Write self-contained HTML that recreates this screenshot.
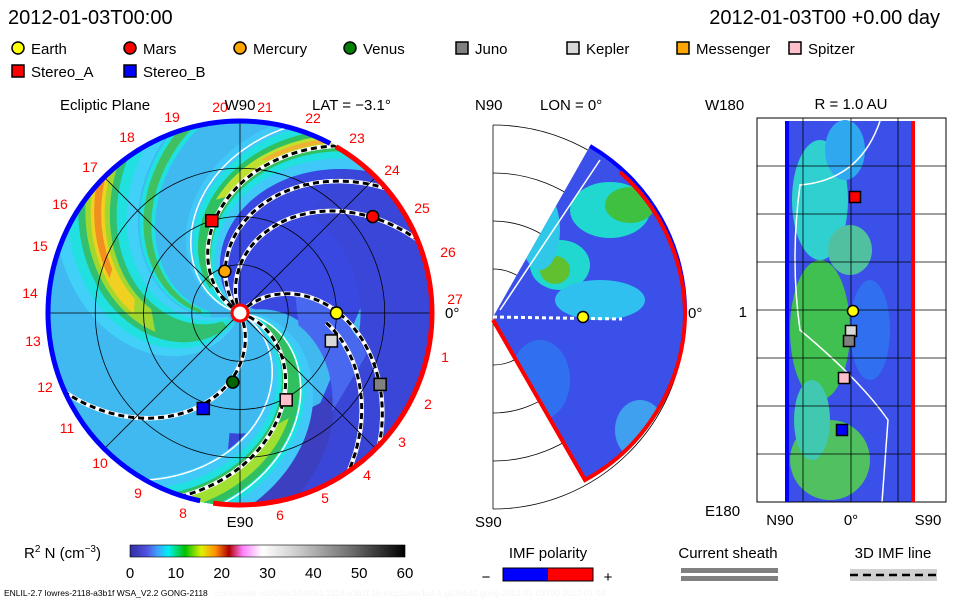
<!DOCTYPE html>
<html><head><meta charset="utf-8"><style>
body{margin:0;background:#fff;width:960px;height:600px;overflow:hidden;font-family:"Liberation Sans",sans-serif}
svg{display:block}
text{font-family:"Liberation Sans",sans-serif}
</style></head><body>
<svg id="s" width="960" height="600" viewBox="0 0 960 600">
<defs>
<linearGradient id="cb" x1="0" x2="1" y1="0" y2="0">
<stop offset="0" stop-color="#3030a0"/><stop offset="0.06" stop-color="#5050e0"/><stop offset="0.1" stop-color="#40a0ff"/><stop offset="0.14" stop-color="#00f0f0"/><stop offset="0.2" stop-color="#00c000"/><stop offset="0.26" stop-color="#e0f000"/><stop offset="0.31" stop-color="#ff9000"/><stop offset="0.36" stop-color="#b00000"/><stop offset="0.41" stop-color="#ff80ff"/><stop offset="0.48" stop-color="#ffffff"/><stop offset="0.6" stop-color="#d0d0d0"/><stop offset="0.8" stop-color="#707070"/><stop offset="1" stop-color="#000"/>
</linearGradient>
<clipPath id="disk"><circle cx="240" cy="313" r="193"/></clipPath>
<clipPath id="wedge"><path d="M493,317 L590,146 A192,192 0 0 1 585,480 Z"/></clipPath>
</defs>
<text x="8" y="24" font-size="20">2012-01-03T00:00</text>
<text x="940" y="24" font-size="20" text-anchor="end">2012-01-03T00 +0.00 day</text>
<g id="legend"></g>
<g id="ecl"></g>
<g id="mer"></g>
<g id="rad"></g>
<g id="bot"></g>
</svg>
<script>
const planetNames=["Earth","Mars","Mercury","Venus","Stereo_A","Stereo_B","Juno","Kepler","Spitzer"];
const planetR=[1.0,1.7,0.46,0.72,1.0,1.06,1.63,0.99,1.02];
const planetAng=[0,36,110,-96,107,-111,-27,-17,-62];
const planetColors=["#ffff00","#ff0000","#ffa500","#006400","#ff0000","#0000ff","#808080","#d8d8d8","#ffc0cb"];
const planetShape=["c","c","c","c","s","s","s","s","s"];
const cbTicks=[0,10,20,30,40,50,60];
const bandPhi=[226,-14,153];
const whitePhi=[165,-6,-30];
const dashPhi=[150,130,112,46,34,-18,-66];
const NS="http://www.w3.org/2000/svg";
function el(p,t,a){const e=document.createElementNS(NS,t);for(const k in a)e.setAttribute(k,a[k]);p.appendChild(e);return e;}
const CX=240,CY=313,PX=96.5;
const xs=(r,a)=>CX+r*PX*Math.cos(a*Math.PI/180);
const ys=(r,a)=>CY-r*PX*Math.sin(a*Math.PI/180);
const C=45;
function spiral(phi0,r0,r1){let d="";for(let r=r0;r<=r1+1e-6;r+=0.02){const a=phi0-C*r;d+=(d?"L":"M")+xs(r,a).toFixed(1)+","+ys(r,a).toFixed(1);}return d;}
function band(phi0,h,r0,r1){let d="";for(let r=r0;r<=r1+1e-6;r+=0.03){const a=phi0+h-C*r;d+=(d?"L":"M")+xs(r,a).toFixed(1)+","+ys(r,a).toFixed(1);}
 for(let r=r1;r>=r0-1e-6;r-=0.03){const a=phi0-h-C*r;d+="L"+xs(r,a).toFixed(1)+","+ys(r,a).toFixed(1);}return d+"Z";}
const L=document.getElementById('legend');
const lx=[18,130,240,350,462,573,683,795,18,130],ly=[48,48,48,48,48,48,48,48,71,71];
const legNames=["Earth","Mars","Mercury","Venus","Juno","Kepler","Messenger","Spitzer","Stereo_A","Stereo_B"];
const legCol=["#ffff00","#ff0000","#ffa500","#008000","#808080","#d8d8d8","#ffa500","#ffc0cb","#ff0000","#0000ff"];
legNames.forEach((n,i)=>{
 const g=el(L,'g',{});
 
 
 if(i<4)el(g,'circle',{cx:lx[i],cy:ly[i],r:6,fill:legCol[i],stroke:'#000','stroke-width':1.5});
 else el(g,'rect',{x:lx[i]-6,y:ly[i]-6,width:12,height:12,fill:legCol[i],stroke:'#000','stroke-width':1.5});
 const t=el(g,'text',{x:lx[i]+13,y:ly[i]+6,'font-size':15});t.textContent=n;
});
const E=document.getElementById('ecl');
const cg=el(E,'g',{'clip-path':'url(#disk)'});
el(cg,'circle',{cx:CX,cy:CY,r:193,fill:'#40b8f0'});
const dkp=el(cg,'path',{d:band(80,60,0.15,2.3),fill:'#3848e0'});

// outer east dark sector
let sd="";for(let a=55;a>=-95;a-=5)sd+=(sd?"L":"M")+xs(2.1,a)+","+ys(2.1,a);
for(let a=-95;a<=55;a+=5)sd+="L"+xs(1.25,a)+","+ys(1.25,a);
el(cg,'path',{d:sd+"Z",fill:'#3a46d8'});
el(cg,'path',{d:band(-5,22,1.3,2.3),fill:'#3c40c0'});
el(cg,'path',{d:band(30,14,0.6,1.4),fill:'#4868f0'});
const layers=[[[24,'#40d0f8',0.12],[17,'#20e0e0',0.12],[11,'#30c070',0.2],[7,'#a0d830',0.9],[4,'#f0d020',1.1],[2,'#f09020',1.4]],
 [[17,'#40c8f8',0.12],[11,'#20e0e0',0.12],[7,'#30c060',0.3],[3,'#a0e030',1.2]],
 [[16,'#40c8f8',0.12],[10,'#20e0e0',0.12],[6,'#30c060',0.4],[3,'#c0e030',1.2],[1.2,'#f0b030',1.6]]];
bandPhi.forEach((p,i)=>{
 layers[i].forEach(([h,c,r0])=>{
  const b=el(cg,'path',{d:band(p,h,r0,2.3),fill:c});
  
 });
});
el(cg,'path',{d:band(196,5,0.3,2.3),fill:'#20e0e0'});
el(cg,'path',{d:band(196,2.5,0.4,2.3),fill:'#40c060'});
whitePhi.forEach(p=>{const w=el(cg,'path',{d:spiral(p,0.08,2.3),fill:'none',stroke:'#fff','stroke-width':1.5});
 });
[0.5,1,1.5].forEach(r=>el(E,'circle',{cx:CX,cy:CY,r:r*PX,fill:'none',stroke:'#000','stroke-width':0.8}));
el(E,'line',{x1:CX-193,y1:CY,x2:CX+193,y2:CY,stroke:'#000','stroke-width':0.8});
el(E,'line',{x1:CX,y1:CY-193,x2:CX,y2:CY+193,stroke:'#000','stroke-width':0.8});
[45,135].forEach(a=>el(E,'line',{x1:xs(2,a),y1:ys(2,a),x2:xs(2,a+180),y2:ys(2,a+180),stroke:'#000','stroke-width':0.8}));
dashPhi.forEach((p,i)=>{
 const g=el(cg,'g',{});
 
 const r0=i==4?0.9:0.1;
 el(g,'path',{d:spiral(p,r0,2.3),fill:'none',stroke:'#fff','stroke-width':4.5});
 el(g,'path',{d:spiral(p,r0,2.3),fill:'none',stroke:'#000','stroke-width':3,'stroke-dasharray':'6 4'});
});
function arc(r,a0,a1){const x0=CX+r*Math.cos(a0*Math.PI/180),y0=CY-r*Math.sin(a0*Math.PI/180),x1=CX+r*Math.cos(a1*Math.PI/180),y1=CY-r*Math.sin(a1*Math.PI/180);return `M${x0},${y0} A${r},${r} 0 ${Math.abs(a1-a0)>180?1:0} 0 ${x1},${y1}`;}
const rb=el(E,'path',{d:arc(192,62,258),fill:'none',stroke:'#0000ff','stroke-width':5});

const rr=el(E,'path',{d:arc(192,-98,60),fill:'none',stroke:'#ff0000','stroke-width':5});

el(E,'circle',{cx:CX,cy:CY,r:8,fill:'#fff',stroke:'#ff0000','stroke-width':3});
planetNames.forEach((n,i)=>{
 const x=xs(planetR[i],planetAng[i]),y=ys(planetR[i],planetAng[i]);let m;
 if(planetShape[i]=="c")m=el(E,'circle',{cx:x,cy:y,r:6,fill:planetColors[i],stroke:'#000','stroke-width':1.5});
 else m=el(E,'rect',{x:x-6,y:y-6,width:12,height:12,fill:planetColors[i],stroke:'#000','stroke-width':1.5});
 
});
const dayLbl=["19","18","17","16","15","14","13","12","11","10","9","8","6","5","4","3","2","1","27","26","25","24","23","22","21","20"];
const dayX=[172,127,90,60,40,30,33,45,67,100,138,183,280,325,367,402,428,445,455,448,422,392,357,313,265,220];
const dayY=[122,142,172,209,251,298,346,392,433,468,498,518,520,503,480,447,409,362,304,257,213,175,143,123,112,112];
dayLbl.forEach((d,i)=>{const t=el(E,'text',{x:dayX[i],y:dayY[i],'font-size':14,fill:'#ff0000','text-anchor':'middle'});t.textContent=d;
 });
[[60,110,"Ecliptic Plane","start"],[240,110,"W90","middle"],[240,527,"E90","middle"],[312,110,"LAT = −3.1°","start"],[445,318,"0°","start"]].forEach(([x,y,s,a])=>{const t=el(E,'text',{x:x,y:y,'font-size':15,'text-anchor':a});t.textContent=s;});
const M=document.getElementById('mer');const MX=493,MY=317;
[48,96,144,192].forEach(r=>el(M,'path',{d:`M${MX},${MY-r} A${r},${r} 0 0 1 ${MX},${MY+r}`,fill:'none',stroke:'#000','stroke-width':0.8}));
el(M,'line',{x1:MX,y1:MY-192,x2:MX,y2:MY+192,stroke:'#000','stroke-width':0.8});
const wg=el(M,'g',{'clip-path':'url(#wedge)'});
el(wg,'rect',{x:490,y:140,width:200,height:345,fill:'#3a50e8'});
[[610,210,40,28,'#20d8d0'],[630,205,25,18,'#40c040'],[560,265,30,25,'#20d8d0'],[555,270,15,14,'#60c030'],[600,300,45,20,'#30c0f0'],[540,230,20,40,'#30c8e8'],[640,430,25,30,'#40a0f0'],[540,380,30,40,'#3070f0']].forEach(([x,y,rx,ry,c])=>el(wg,'ellipse',{cx:x,cy:y,rx:rx,ry:ry,fill:c}));
el(wg,'path',{d:"M500,310 Q560,220 600,160",fill:'none',stroke:'#fff','stroke-width':1.5});
el(M,'path',{d:`M590,146 A192,192 0 0 1 685,317`,fill:'none',stroke:'#0000ff','stroke-width':4});
el(M,'path',{d:`M620,172 A192,192 0 0 1 685,317 A192,192 0 0 1 585,480 L493,320`,fill:'none',stroke:'#ff0000','stroke-width':4});
el(M,'line',{x1:493,y1:317,x2:622,y2:319,stroke:'#fff','stroke-width':3,'stroke-dasharray':'4 3'});
const me=el(M,'circle',{cx:583,cy:317,r:5.5,fill:'#ffff00',stroke:'#000','stroke-width':1.5});

[[475,110,"N90"],[540,110,"LON = 0°"],[475,527,"S90"],[688,318,"0°"]].forEach(([x,y,s])=>{const t=el(M,'text',{x:x,y:y,'font-size':15});t.textContent=s;});
const R=document.getElementById('rad');
el(R,'rect',{x:785,y:121,width:130,height:381,fill:'#3a50e8'});
[[820,200,28,60,'#30d0d0'],[820,330,30,70,'#40c050'],[830,460,40,40,'#50c060'],[812,420,18,40,'#40c8b0'],[870,330,20,50,'#3070f0'],[845,150,20,30,'#30a8f0'],[850,250,22,25,'#50c0a0']].forEach(([x,y,rx,ry,c])=>el(R,'ellipse',{cx:x,cy:y,rx:rx,ry:ry,fill:c}));
el(R,'path',{d:"M880,121 Q860,180 800,185 Q790,260 800,330 Q860,380 888,420 L882,502",fill:'none',stroke:'#fff','stroke-width':1.5});
el(R,'rect',{x:757,y:118,width:189,height:384,fill:'none',stroke:'#000','stroke-width':1});
[803,851,898].forEach(x=>el(R,'line',{x1:x,y1:118,x2:x,y2:502,stroke:'#000','stroke-width':0.8}));
[166,214,262,310,358,406,454].forEach(y=>el(R,'line',{x1:757,y1:y,x2:946,y2:y,stroke:'#000','stroke-width':0.8}));
el(R,'line',{x1:787,y1:121,x2:787,y2:502,stroke:'#0000ff','stroke-width':4});
el(R,'line',{x1:913,y1:121,x2:913,y2:502,stroke:'#ff0000','stroke-width':4});
[[855,197,'#ff0000','s'],[853,311,'#ffff00','c'],[851,331,'#d8d8d8','s'],[849,341,'#808080','s'],[844,378,'#ffc0cb','s'],[842,430,'#0000ff','s']].forEach(([x,y,c,s])=>{
 if(s=='c')el(R,'circle',{cx:x,cy:y,r:5.5,fill:c,stroke:'#000','stroke-width':1.5});else el(R,'rect',{x:x-5.5,y:y-5.5,width:11,height:11,fill:c,stroke:'#000','stroke-width':1.5});});
[[851,109,"R = 1.0 AU","middle"],[705,110,"W180","start"],[747,317,"1","end"],[705,516,"E180","start"],[780,525,"N90","middle"],[851,525,"0°","middle"],[928,525,"S90","middle"]].forEach(([x,y,s,a])=>{const t=el(R,'text',{x:x,y:y,'font-size':15,'text-anchor':a});t.textContent=s;});
const B=document.getElementById('bot');
const cbX=130,cbW=275;
const cbr=el(B,'rect',{x:cbX,y:545,width:cbW,height:12,fill:'url(#cb)',stroke:'#000','stroke-width':0.6});

cbTicks.forEach(v=>{const t=el(B,'text',{x:cbX+v/60*cbW,y:578,'font-size':15,'text-anchor':'middle'});t.textContent=v;
 });
const cbl=el(B,'text',{x:24,y:558,'font-size':15});cbl.innerHTML='R<tspan dy="-6" font-size="10">2</tspan><tspan dy="6"> N (cm</tspan><tspan dy="-6" font-size="10">−3</tspan><tspan dy="6">)</tspan>';
[[548,558,"IMF polarity"],[728,558,"Current sheath"],[893,558,"3D IMF line"]].forEach(([x,y,s])=>{const t=el(B,'text',{x:x,y:y,'font-size':15,'text-anchor':'middle'});t.textContent=s;});
el(B,'rect',{x:503,y:568,width:45,height:13,fill:'#0000ff'});el(B,'rect',{x:548,y:568,width:45,height:13,fill:'#ff0000'});
el(B,'rect',{x:503,y:568,width:90,height:13,fill:'none',stroke:'#000','stroke-width':1});
let t1=el(B,'text',{x:486,y:582,'font-size':15,'text-anchor':'middle'});t1.textContent='−';
t1=el(B,'text',{x:608,y:582,'font-size':15,'text-anchor':'middle'});t1.textContent='+';
el(B,'rect',{x:681,y:568,width:97,height:5,fill:'#808080'});el(B,'rect',{x:681,y:576,width:97,height:5,fill:'#808080'});
el(B,'rect',{x:850,y:569,width:87,height:12,fill:'#d0d0d0'});
el(B,'line',{x1:850,y1:575,x2:937,y2:575,stroke:'#000','stroke-width':2.5,'stroke-dasharray':'8 5'});
t1=el(B,'text',{x:4,y:596,'font-size':8.5});t1.textContent='ENLIL-2.7 lowres-2118-a3b1f WSA_V2.2 GONG-2118';
t1=el(B,'text',{x:215,y:596,'font-size':8.5,fill:'#f4f4f4'});t1.textContent='ccmc/wsafr-cld/256x30x90x1.2118-a3b1f.16-mcp1umn1cd-1.g53q5d2.gong-2012-01-03T00    2012-01-03';
</script>
</body></html>
